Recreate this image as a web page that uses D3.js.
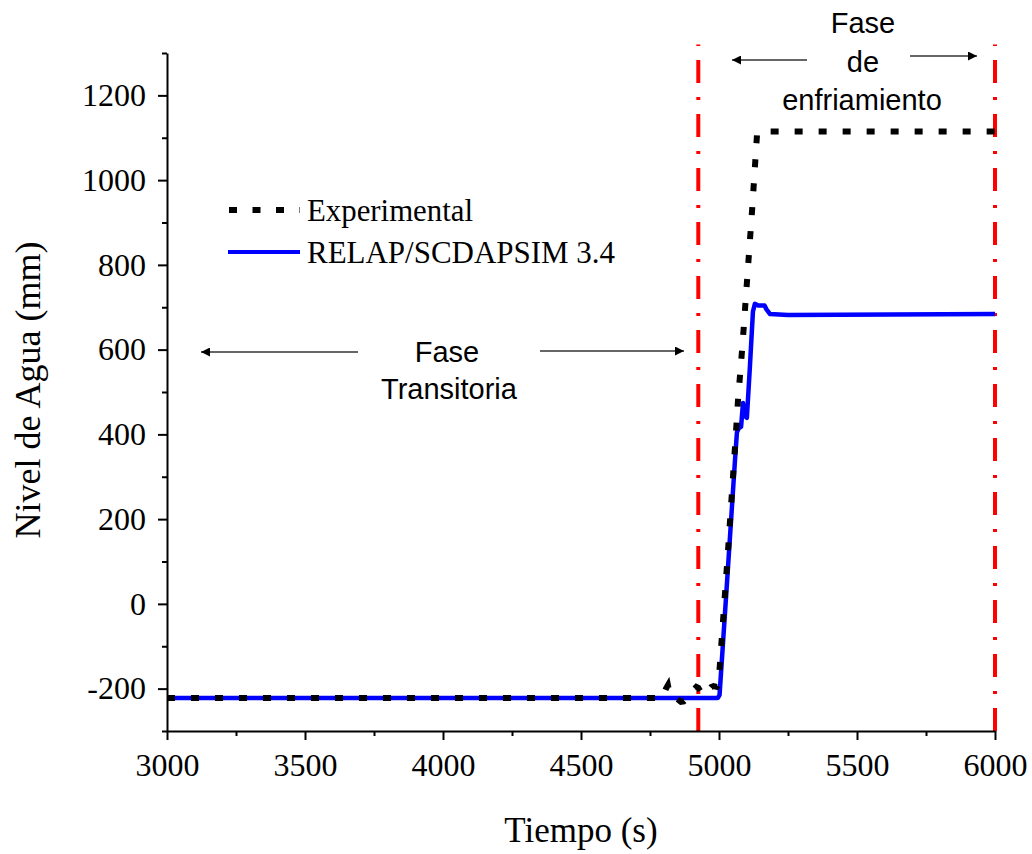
<!DOCTYPE html>
<html>
<head>
<meta charset="utf-8">
<script src="https://cdn.jsdelivr.net/npm/d3@7"></script>
<style>
  html, body { margin: 0; padding: 0; background: #fff; }
  svg { display: block; }
</style>
</head>
<body>
<script>
// ---- data ----
const expTime  = [3000, 4795, 4808, 4815, 4822, 4845, 4862, 4872, 4885, 4905, 4918, 4925, 4940, 4960, 4972, 4980, 4992, 4998, 5030, 5060, 5069, 5085, 5098, 5120, 5138, 5150, 6000];
const expLevel = [-222, -222, -200, -192, -215, -222, -231, -230, -222, -205, -196, -198, -215, -205, -196, -194, -196, -190, 100, 390, 482, 610, 730, 930, 1110, 1115, 1115];

const relapTime  = [3000, 4996, 5002, 5030, 5058, 5065, 5072, 5080, 5087, 5092, 5101, 5112, 5123, 5130, 5142, 5165, 5172, 5185, 5250, 6000];
const relapLevel = [-222, -222, -215, 60, 340, 405, 415, 418, 474, 445, 439, 560, 690, 708, 704, 704, 695, 684, 682, 684];

const phaseLines = [4925, 6000];

const xMajorTicks = [3000, 3500, 4000, 4500, 5000, 5500, 6000];
const xMinorTicks = [3250, 3750, 4250, 4750, 5250, 5750];
const yMajorTicks = [-200, 0, 200, 400, 600, 800, 1000, 1200];
const yMinorTicks = [-300, -100, 100, 300, 500, 700, 900, 1100, 1300];

const seriesNames = ["Experimental", "RELAP/SCDAPSIM 3.4"];
const xTitle = "Tiempo (s)";
const yTitle = "Nivel de Agua (mm)";

// ---- layout ----
const W = 1032, H = 854;
const svg = d3.select("body").append("svg").attr("width", W).attr("height", H);

const x = d3.scaleLinear().domain([3000, 6000]).range([167, 995]);
const y = d3.scaleLinear().domain([-300, 1300]).range([731, 53]);

const serif = "'Liberation Serif', 'Times New Roman', serif";
const sans = "'Liberation Sans', Arial, sans-serif";
const fmt = d => String(d);

// phase separator lines (dash-dot red)
svg.append("g").selectAll("line").data(phaseLines).join("line")
  .attr("x1", d => x(d)).attr("x2", d => x(d))
  .attr("y1", y(-300)).attr("y2", y(1320))
  .attr("stroke", "#ff0000").attr("stroke-width", 4)
  .attr("stroke-dasharray", "23,14,3,14");

// axes
const gx = svg.append("g").attr("transform", `translate(0,${y(-300)})`);
gx.call(d3.axisBottom(x).tickValues(xMajorTicks).tickSize(9).tickSizeOuter(0).tickPadding(10).tickFormat(fmt));
const gxm = svg.append("g").attr("transform", `translate(0,${y(-300)})`);
gxm.call(d3.axisBottom(x).tickValues(xMinorTicks).tickSize(5).tickSizeOuter(0).tickFormat(""));
gxm.select(".domain").remove();

const gy = svg.append("g").attr("transform", `translate(${x(3000)},0)`);
gy.call(d3.axisLeft(y).tickValues(yMajorTicks).tickSize(9).tickSizeOuter(0).tickPadding(12).tickFormat(fmt));
const gym = svg.append("g").attr("transform", `translate(${x(3000)},0)`);
gym.call(d3.axisLeft(y).tickValues(yMinorTicks).tickSize(5).tickSizeOuter(0).tickFormat(""));
gym.select(".domain").remove();

svg.selectAll(".domain").attr("stroke", "#000").attr("stroke-width", 2);
svg.selectAll(".tick line").attr("stroke", "#000").attr("stroke-width", 2);
svg.selectAll(".tick text").attr("font-family", serif).attr("font-size", 32).attr("fill", "#000");
gx.selectAll(".tick text").attr("dy", "0.8em");

// series
const line = d3.line().x(d => x(d[0])).y(d => y(d[1]));
const relapPts = relapTime.map((t, i) => [t, relapLevel[i]]);
const expPts = expTime.map((t, i) => [t, expLevel[i]]);

svg.append("path").datum(relapPts).attr("d", line)
  .attr("fill", "none").attr("stroke", "#0000ff").attr("stroke-width", 4.5)
  .attr("stroke-linejoin", "round");
svg.append("path").datum(expPts).attr("d", line)
  .attr("fill", "none").attr("stroke", "#000").attr("stroke-width", 6)
  .attr("stroke-dasharray", "8,16");

// legend
const lg = svg.append("g");
lg.append("line").attr("x1", 229).attr("x2", 300).attr("y1", 210).attr("y2", 210)
  .attr("stroke", "#000").attr("stroke-width", 6).attr("stroke-dasharray", "8,15.5");
lg.append("line").attr("x1", 228).attr("x2", 300).attr("y1", 252).attr("y2", 252)
  .attr("stroke", "#0000ff").attr("stroke-width", 4);
lg.append("text").attr("x", 307).attr("y", 221).text(seriesNames[0])
  .attr("font-family", serif).attr("font-size", 31)
  .attr("textLength", 166).attr("lengthAdjust", "spacingAndGlyphs");
lg.append("text").attr("x", 307).attr("y", 263).text(seriesNames[1])
  .attr("font-family", serif).attr("font-size", 31)
  .attr("textLength", 308).attr("lengthAdjust", "spacingAndGlyphs");

// axis titles
svg.append("text").attr("x", 581).attr("y", 842).attr("text-anchor", "middle")
  .attr("font-family", serif).attr("font-size", 35).text(xTitle);
svg.append("text").attr("transform", "translate(40,390) rotate(-90)").attr("text-anchor", "middle")
  .attr("font-family", serif).attr("font-size", 36).text(yTitle);

// annotations
const defs = svg.append("defs");
defs.append("marker").attr("id", "arr").attr("viewBox", "0 0 10 10")
  .attr("refX", 10).attr("refY", 5).attr("markerWidth", 15).attr("markerHeight", 9)
  .attr("markerUnits", "userSpaceOnUse").attr("orient", "auto")
  .append("path").attr("d", "M0,0 L10,5 L0,10 Z").attr("fill", "#000");

function arrow(x1, y1, x2, y2) {
  svg.append("line").attr("x1", x1).attr("y1", y1).attr("x2", x2).attr("y2", y2)
    .attr("stroke", "#333").attr("stroke-width", 1.5).attr("marker-end", "url(#arr)");
}
arrow(358, 352, 201, 352);
arrow(540, 351, 684, 351);
arrow(807, 60, 732, 60);
arrow(910, 56, 977, 56);

const ann = [
  ["Fase", 447, 362], ["Transitoria", 449, 399],
  ["Fase", 863, 33], ["de", 863, 72], ["enfriamiento", 862, 110]
];
svg.append("g").selectAll("text").data(ann).join("text")
  .attr("x", d => d[1]).attr("y", d => d[2]).attr("text-anchor", "middle")
  .attr("font-family", sans).attr("font-size", 29).attr("fill", "#000")
  .text(d => d[0]);
</script>
</body>
</html>
